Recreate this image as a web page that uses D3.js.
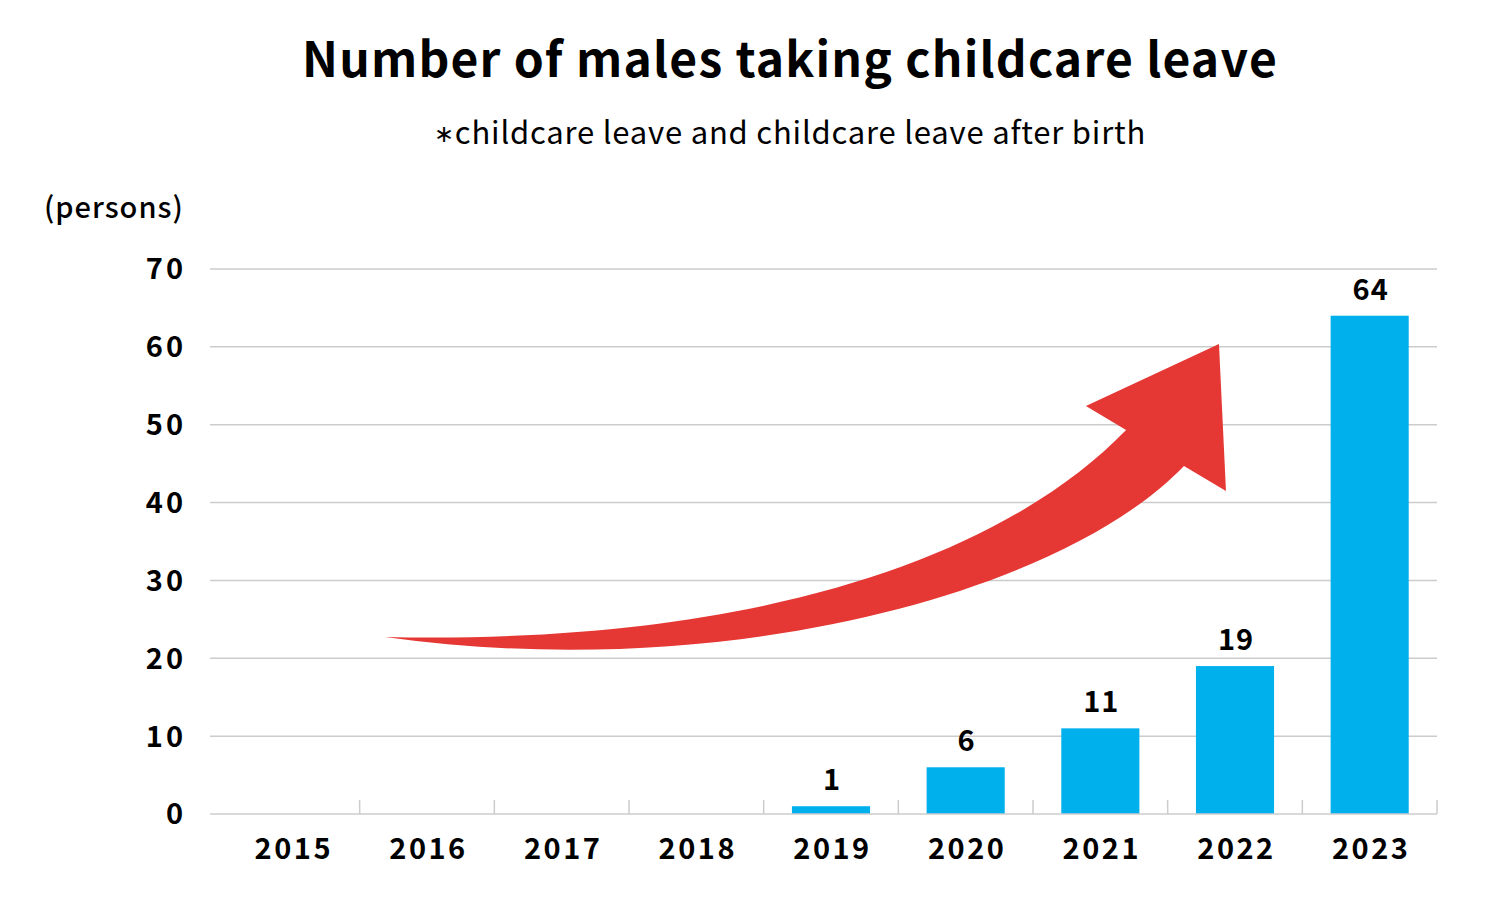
<!DOCTYPE html>
<html>
<head>
<meta charset="utf-8">
<script src="https://cdn.jsdelivr.net/npm/d3@7"></script>
<style>
  html, body { margin: 0; padding: 0; background: #fff; }
  svg { display: block; }
  text { font-family: "Noto Sans CJK JP", "Noto Sans", sans-serif; fill: #000; }
</style>
</head>
<body>
<svg id="chart" width="1510" height="909"></svg>
<script>
const titleText = "Number of males taking childcare leave";
const subtitleText = "childcare leave and childcare leave after birth";
const unitLabel = "(persons)";
const years = ["2015", "2016", "2017", "2018", "2019", "2020", "2021", "2022", "2023"];
const values = [null, null, null, null, 1, 6, 11, 19, 64];
const yTicks = [0, 10, 20, 30, 40, 50, 60, 70];

// Decorative arrow, in chart units (u = position in category steps, v = value units)
const arrowTail = [1.188, 22.73];
const arrowTopCtrl = [[3.898, 21.71], [5.755, 32.62]];
const arrowHead = [[6.691, 49.32], [6.393, 52.40], [7.381, 60.37], [7.433, 41.49], [7.121, 44.70]];
const arrowBottomCtrl = [[6.200, 28.13], [3.676, 16.70]];

(function () {
const svg = d3.select("#chart");
const mLeft = 225, mRight = 1437, mTop = 269, mBottom = 814;
const gridLeft = 210;

const x = d3.scaleBand().domain(years).range([mLeft, mRight]).paddingInner(0.42).paddingOuter(0.21);
const xStep = d3.scaleLinear().domain([0, years.length]).range([mLeft, mRight]);
const y = d3.scaleLinear().domain([0, 70]).range([mBottom, mTop]);

// Title
svg.append("text").attr("x", 790).attr("y", 77).attr("text-anchor", "middle")
  .attr("font-size", 48).attr("font-weight", 700).attr("letter-spacing", 1.2).text(titleText);
const sub = svg.append("text").attr("x", 790).attr("y", 144).attr("text-anchor", "middle")
  .attr("font-size", 31).attr("font-weight", 400).attr("letter-spacing", 0.8);
sub.append("tspan").attr("font-family", "DejaVu Sans").attr("font-size", 24).attr("dy", -2).text("∗");
sub.append("tspan").attr("dy", 2).text(subtitleText);
svg.append("text").attr("x", 44).attr("y", 218).attr("text-anchor", "start")
  .attr("font-size", 29).attr("font-weight", 500).attr("letter-spacing", 1).text(unitLabel);

// Gridlines
svg.append("g").selectAll("line").data(yTicks.filter(d => d > 0)).join("line")
  .attr("x1", gridLeft).attr("x2", mRight)
  .attr("y1", d => y(d)).attr("y2", d => y(d))
  .attr("stroke", "#cccccc").attr("stroke-width", 1.5);

// Y tick labels
svg.append("g").selectAll("text").data(yTicks).join("text")
  .attr("x", 186).attr("y", d => y(d)).attr("dy", "0.36em")
  .attr("text-anchor", "end").attr("font-size", 29).attr("font-weight", 700)
  .attr("letter-spacing", 3)
  .text(d => d);

// Arrow (cubic Bezier edges through the chart scales)
const P = p => xStep(p[0]) + "," + y(p[1]);
const d = "M" + P(arrowTail) +
  "C" + P(arrowTopCtrl[0]) + " " + P(arrowTopCtrl[1]) + " " + P(arrowHead[0]) +
  arrowHead.slice(1).map(p => "L" + P(p)).join("") +
  "C" + P(arrowBottomCtrl[0]) + " " + P(arrowBottomCtrl[1]) + " " + P(arrowTail) + "Z";
svg.append("path").attr("d", d).attr("fill", "#e53834");

// Bars
const barData = years.map((yr, i) => ({ year: yr, value: values[i] })).filter(d => d.value != null);
svg.append("g").selectAll("rect").data(barData).join("rect")
  .attr("x", d => x(d.year)).attr("width", x.bandwidth())
  .attr("y", d => y(d.value)).attr("height", d => y(0) - y(d.value))
  .attr("fill", "#00b0ec");

// Value labels
svg.append("g").selectAll("text").data(barData).join("text")
  .attr("x", d => x(d.year) + x.bandwidth() / 2 + 1).attr("y", d => y(d.value) - 16)
  .attr("text-anchor", "middle").attr("font-size", 29).attr("font-weight", 700)
  .attr("letter-spacing", 1)
  .text(d => d.value);

// X axis line and ticks
svg.append("line").attr("x1", gridLeft).attr("x2", mRight).attr("y1", mBottom).attr("y2", mBottom)
  .attr("stroke", "#cccccc").attr("stroke-width", 1.5);
svg.append("g").selectAll("line").data(d3.range(1, years.length + 1)).join("line")
  .attr("x1", d => xStep(d)).attr("x2", d => xStep(d))
  .attr("y1", mBottom - 14).attr("y2", mBottom)
  .attr("stroke", "#cccccc").attr("stroke-width", 1.5);

// X labels
svg.append("g").selectAll("text").data(years).join("text")
  .attr("x", d => x(d) + x.bandwidth() / 2 + 1.5).attr("y", 859)
  .attr("text-anchor", "middle").attr("font-size", 29).attr("font-weight", 700)
  .attr("letter-spacing", 2.5)
  .text(d => d);
})();
</script>
</body>
</html>
